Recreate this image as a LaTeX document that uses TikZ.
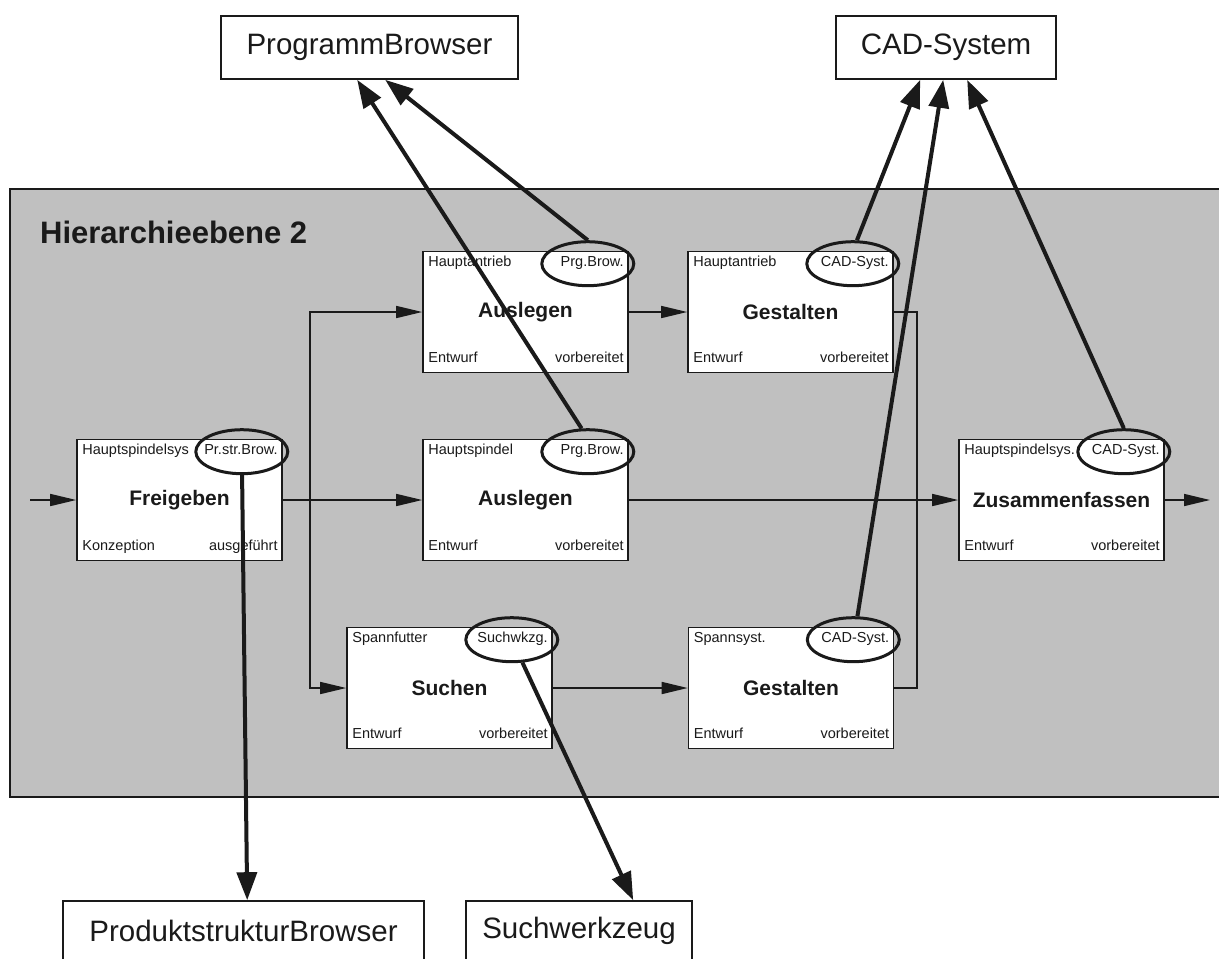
\documentclass[tikz,border=0pt]{standalone}
\usepackage{fontspec}
\setmainfont{Liberation Sans}
\usetikzlibrary{arrows.meta,shapes.geometric,calc}

\definecolor{ink}{HTML}{1A1A1A}
\definecolor{levelgrey}{HTML}{C0C0C0}

% one process step: box, object (top left), tool tag (top right, circled),
% activity name (centre), phase (bottom left), state (bottom right)
\newcommand{\procstep}[8]{%
  \node[stepbox] (#1) at (#2,#3) {};
  \node[small, anchor=mid west] (#1-obj) at ($(#1.north west)+(6,13)$) {#4};
  \node[small, anchor=mid east] (#1-tool) at ($(#1.north east)+(-5,13)$) {#5};
  \node[tag] (#1-tag) at ($(#1.north east)+(-41,13)$) {};
  \node[title] (#1-name) at (#1.center) {#6};
  \node[small, anchor=mid west] (#1-phase) at ($(#1.south west)+(6,-13)$) {#7};
  \node[small, anchor=mid east] (#1-state) at ($(#1.south east)+(-5,-13)$) {#8};
}

\begin{document}
\begin{tikzpicture}[x=1pt,y=-1pt,
  every node/.style={text=ink},
  frame/.style={draw=ink, line width=1.6pt},
  stepbox/.style={frame, fill=white, minimum width=205pt, minimum height=121pt, inner sep=0pt},
  toolbox/.style={frame, fill=white, inner sep=0pt, font=\fontsize{29.5}{32}\selectfont},
  tag/.style={ellipse, draw=ink, line width=3pt, minimum width=92pt, minimum height=44pt, inner sep=0pt},
  small/.style={font=\fontsize{14.5}{16}\selectfont, inner sep=0pt},
  title/.style={font=\fontsize{21}{24}\bfseries\selectfont, inner sep=0pt},
  flow/.style={draw=ink, line width=1.6pt, -{Triangle[length=26pt,width=12pt]}},
  link/.style={draw=ink, line width=1.6pt},
  use/.style={draw=ink, line width=4pt, -{Triangle[length=28pt,width=20pt]}},
]
\clip (0,0) rectangle (1219,959);
\fill[white] (0,0) rectangle (1219,959);

% hierarchy level
\draw[fill=levelgrey, draw=ink, line width=1.6pt] (10,189) rectangle (1240,797);
\node[anchor=base west, inner sep=0pt, font=\fontsize{31}{34}\bfseries\selectfont] (level) at (40,243) {Hierarchieebene 2};

% tools
\node[toolbox, minimum width=297pt, minimum height=63pt] (pb) at (369.5,47.5) {ProgrammBrowser};
\node[toolbox, minimum width=220pt, minimum height=63pt] (cad) at (946,47.5) {CAD-System};
\node[toolbox, minimum width=361pt, minimum height=60pt] (psb) at (243.5,931) {ProduktstrukturBrowser};
\node[toolbox, minimum width=226pt, minimum height=60pt] (swz) at (579,931) {Suchwerkzeug};

% process steps
\procstep{fr}{179.5}{500}{Hauptspindelsys}{Pr.str.Brow.}{Freigeben}{Konzeption}{ausgeführt}
\procstep{a1}{525.5}{312}{Hauptantrieb}{Prg.Brow.}{Auslegen}{Entwurf}{vorbereitet}
\procstep{g1}{790.5}{312}{Hauptantrieb}{CAD-Syst.}{Gestalten}{Entwurf}{vorbereitet}
\procstep{a2}{525.5}{500}{Hauptspindel}{Prg.Brow.}{Auslegen}{Entwurf}{vorbereitet}
\procstep{zf}{1061.5}{500}{Hauptspindelsys.}{CAD-Syst.}{Zusammenfassen}{Entwurf}{vorbereitet}
\procstep{su}{449.5}{688}{Spannfutter}{Suchwkzg.}{Suchen}{Entwurf}{vorbereitet}
\procstep{g2}{791}{688}{Spannsyst.}{CAD-Syst.}{Gestalten}{Entwurf}{vorbereitet}

% process flow
\coordinate (in) at (30,500);
\coordinate (fork) at (310,500);
\coordinate (merge) at (917,500);
\coordinate (out) at (1210,500);
\draw[flow] (in) -- (fr.west);
\draw[flow] (fr.east) -- (a2.west);
\draw[flow] (fork) |- (a1.west);
\draw[flow] (fork) |- (su.west);
\draw[flow] (a1.east) -- (g1.west);
\draw[flow] (su.east) -- (g2.west);
\draw[flow] (a2.east) -- (zf.west);
\draw[link] (g1.east) -| (merge |- g2.east) -- (g2.east);
\draw[flow] (zf.east) -- (out);

% tool usage
\draw[use] (fr-tag) -- ($(psb.north west)+(185,0)$);
\draw[use] (su-tag) -- ($(swz.north west)+(168,0)$);
\draw[use] (a1-tag.north) -- ($(pb.south west)+(165,0)$);
\draw[use] (a2-tag.105) -- ($(pb.south west)+(137,0)$);
\draw[use] (g1-tag.80) -- ($(cad.south west)+(85,0)$);
\draw[use] (g2-tag.80) -- ($(cad.south west)+(108,0)$);
\draw[use] (zf-tag.90) -- ($(cad.south west)+(132,0)$);
\end{tikzpicture}
\end{document}
